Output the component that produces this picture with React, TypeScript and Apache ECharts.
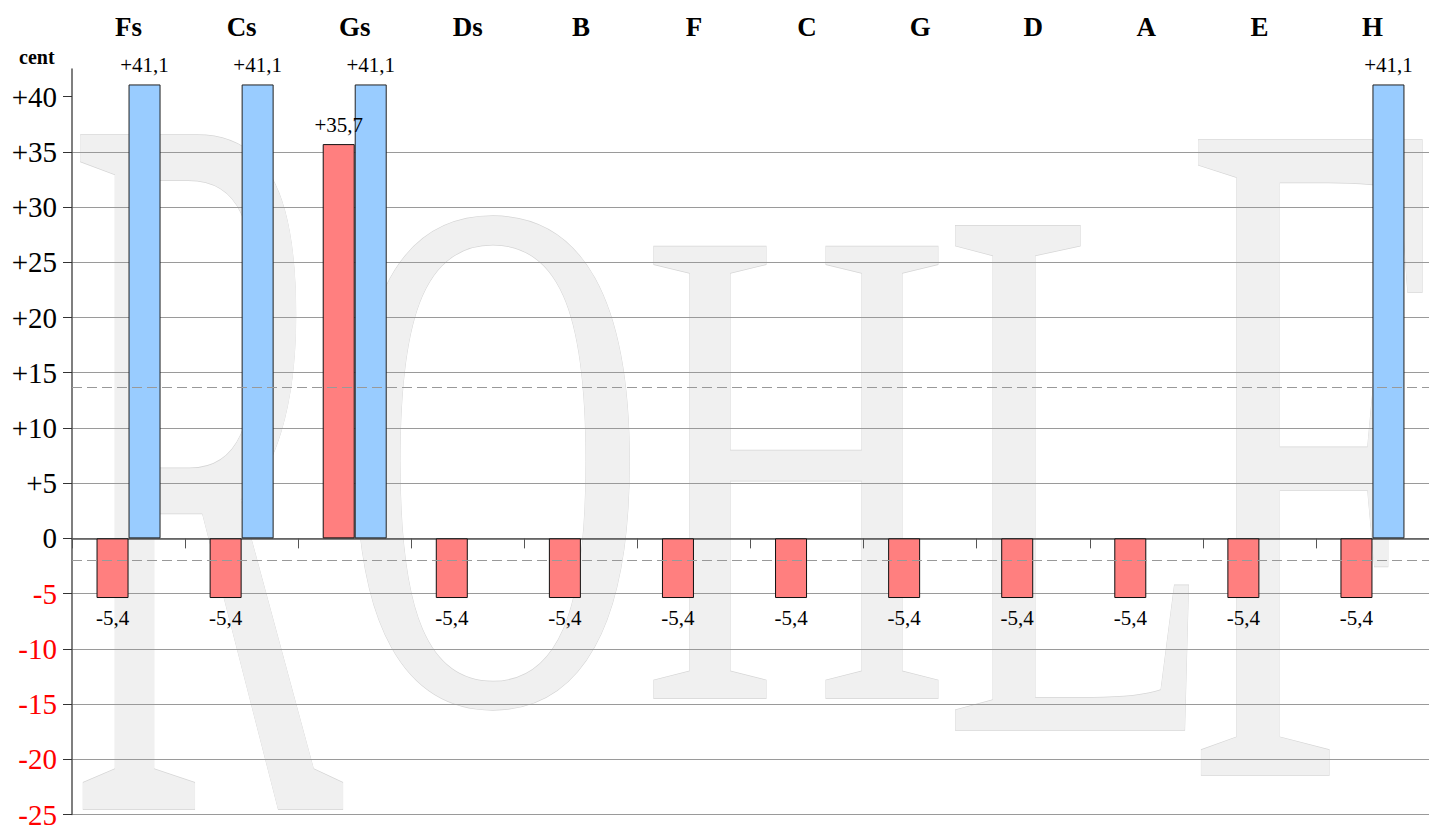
import React, { useEffect, useRef } from "react";
import * as echarts from "echarts";

// ---- data ----
const categories = ["Fs", "Cs", "Gs", "Ds", "B", "F", "C", "G", "D", "A", "E", "H"];
const redValues = [-5.4, -5.4, 35.7, -5.4, -5.4, -5.4, -5.4, -5.4, -5.4, -5.4, -5.4, -5.4];
const blueValues: (number | null)[] = [41.1, 41.1, 41.1, null, null, null, null, null, null, null, null, 41.1];
const referenceLines = [13.7, -2];
const yTicks = [-25, -20, -15, -10, -5, 0, 5, 10, 15, 20, 25, 30, 35, 40];
const yMin = -25;
const yMax = 42.5;
const unitLabel = "cent";
const watermarkLetters = ["R", "O", "H", "L", "F"];

// ---- styles ----
const SERIF = "Liberation Serif";
const RED = "#ff7f7f";
const BLUE = "#99ccff";
const watermarkLayout = [
  { cx: 206, cy: 462, size: 1030, sx: 0.4 },
  { cx: 493, cy: 455, size: 735, sx: 0.58 },
  { cx: 796, cy: 465, size: 690, sx: 0.62 },
  { cx: 1079, cy: 470, size: 770, sx: 0.58 },
  { cx: 1312, cy: 448, size: 970, sx: 0.47 },
];

const fmt = (v: number) => (v > 0 ? "+" : "") + v.toFixed(1).replace(".", ",");

export default function App() {
  const ref = useRef<HTMLDivElement>(null);
  useEffect(() => {
    if (!ref.current) return;
    const chart = echarts.init(ref.current, undefined, { renderer: "svg" });
    const labelBase = {
      show: true,
      fontFamily: SERIF,
      fontSize: 21,
      color: "#000",
      distance: 9,
      formatter: (p: any) => fmt(Number(p.value)),
    };
    const mkItem = (v: number | null) =>
      v == null
        ? "-"
        : { value: v, label: { position: v < 0 ? "bottom" : "top" } };

    chart.setOption({
      animation: false,
      backgroundColor: "#ffffff",
      grid: { left: 72, right: 0, top: 69, bottom: 9, containLabel: false },
      graphic: [
        ...watermarkLetters.map((ch, i) => ({
          type: "text",
          z: -10,
          x: watermarkLayout[i].cx,
          y: watermarkLayout[i].cy,
          scaleX: watermarkLayout[i].sx,
          scaleY: 1,
          silent: true,
          style: {
            text: ch,
            fontFamily: SERIF,
            fontSize: watermarkLayout[i].size,
            fill: "#f0f0f0",
            stroke: "#d6d6d6",
            lineWidth: 1.5,
            textAlign: "center",
            textVerticalAlign: "middle",
          },
        })),
        {
          type: "text",
          left: 19,
          top: 47,
          style: {
            text: unitLabel,
            fontFamily: SERIF,
            fontWeight: "bold",
            fontSize: 20,
            fill: "#000",
          },
        },
      ],
      xAxis: [
        {
          type: "category",
          data: categories,
          position: "top",
          axisLine: { show: false, onZero: false },
          axisTick: { show: false },
          splitLine: { show: false },
          axisLabel: {
            fontFamily: SERIF,
            fontWeight: "bold",
            fontSize: 27,
            color: "#000",
            margin: 29,
          },
        },
        {
          type: "category",
          data: categories,
          position: "bottom",
          axisLine: { show: true, onZero: true, lineStyle: { color: "#555", width: 1.5 } },
          axisTick: { show: true, length: 10, inside: false, lineStyle: { color: "#555" } },
          axisLabel: { show: false },
          splitLine: { show: false },
        },
      ],
      yAxis: {
        type: "value",
        min: yMin,
        max: yMax,
        interval: 5,
        axisLine: { show: true, lineStyle: { color: "#555", width: 1.5 } },
        axisTick: {
          show: true,
          length: 9,
          customValues: yTicks,
          lineStyle: { color: "#333" },
        },
        axisLabel: {
          customValues: yTicks,
          fontFamily: SERIF,
          fontSize: 29,
          margin: 15,
          formatter: (v: number) => (v > 0 ? "+" + v : String(v)),
          color: (v: any) => (Number(v) < 0 ? "#ff0000" : "#000000"),
        },
        splitLine: {
          show: true,
          showMaxLine: false,
          lineStyle: { color: "#9a9a9a", width: 1 },
        },
      },
      series: [
        {
          type: "line",
          xAxisIndex: 0,
          data: categories.map(() => null),
          showSymbol: false,
          silent: true,
          z: 1,
          markLine: {
            silent: true,
            symbol: "none",
            label: { show: false },
            lineStyle: { type: [10, 5], color: "#999", width: 1 },
            data: referenceLines.map((v) => ({ yAxis: v })),
          },
        },
        {
          type: "bar",
          xAxisIndex: 0,
          z: 3,
          barWidth: 32,
          barGap: "0%",
          itemStyle: { color: RED, borderColor: "#111", borderWidth: 1 },
          label: labelBase,
          data: redValues.map(mkItem),
        },
        {
          type: "bar",
          xAxisIndex: 0,
          z: 3,
          barWidth: 32,
          barGap: "0%",
          itemStyle: { color: BLUE, borderColor: "#222", borderWidth: 1 },
          label: labelBase,
          data: blueValues.map(mkItem),
        },
      ],
    });
    return () => chart.dispose();
  }, []);
  return (
    <div
      ref={ref}
      style={{ position: "fixed", left: 0, top: 0, width: 1429, height: 829 }}
    />
  );
}
